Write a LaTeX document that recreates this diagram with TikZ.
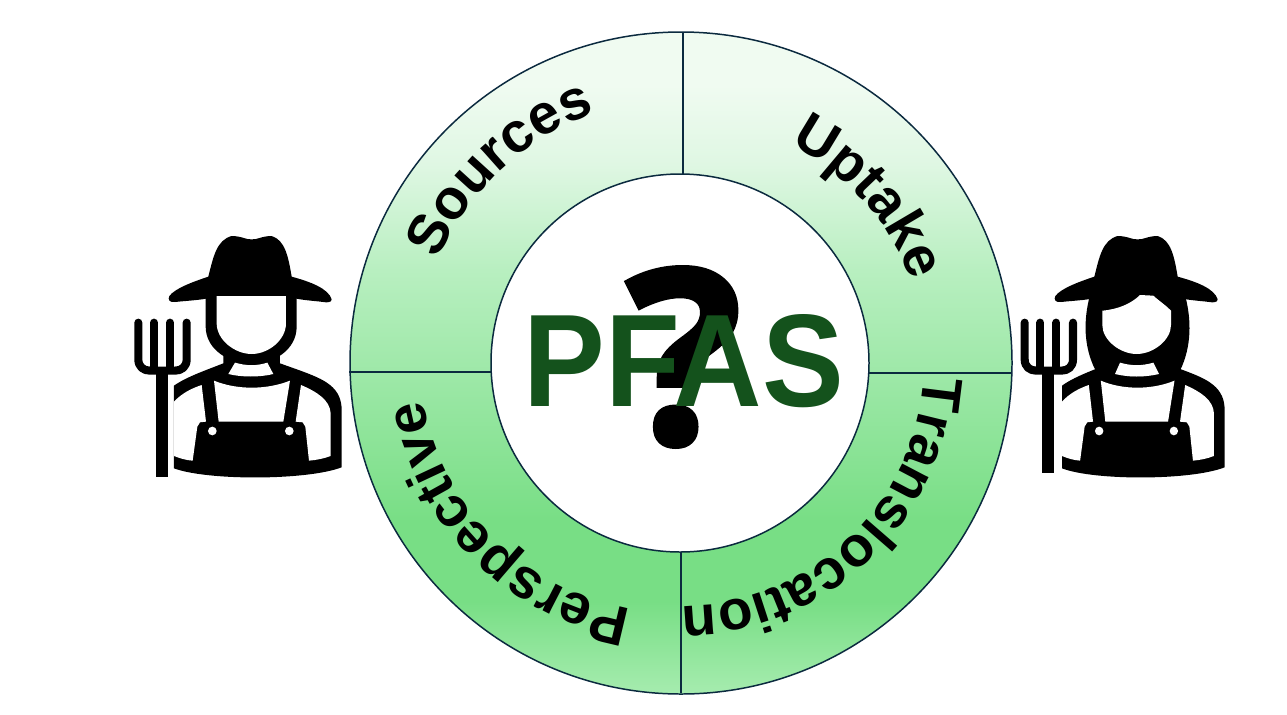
\documentclass[tikz,border=0pt]{standalone}
\usepackage{fontspec}
\setmainfont{Liberation Sans}
\newfontfamily\markfont[BoldFeatures={FakeBold=1.6}]{Open Sans}
\newfontfamily\pfasfont[FakeStretch=0.93]{Liberation Sans}
\usepackage{tikz}
\usetikzlibrary{decorations.text}
\definecolor{RingLine}{HTML}{0B2A3F}
\definecolor{LeafDark}{HTML}{14521C}
\definecolor{RingTop}{HTML}{F0FBF1}
\definecolor{RingHigh}{HTML}{DFF7E3}
\definecolor{RingLow}{HTML}{B8EFC0}
\definecolor{RingMid}{HTML}{78DE85}
\definecolor{RingEnd}{HTML}{A6ECAF}
\pgfdeclareverticalshading{ringshade}{100bp}{color(0bp)=(RingEnd); color(25bp)=(RingEnd); color(32bp)=(RingMid); color(38bp)=(RingMid); color(57bp)=(RingLow); color(65bp)=(RingHigh); color(71bp)=(RingTop); color(100bp)=(RingTop)}
\tikzset{
  % Ring styles
  ringline/.style={draw=RingLine, line width=0.85pt},
  ringlabel/.style={decorate, decoration={text along path, text align=center, text={|\fontsize{32}{32}\selectfont\bfseries|#1}}},
  % Farmer parts, in units of the third of a pixel
  farmerfork/.pic={
    \draw[line width=4.6pt, line cap=round, line join=round]
      (55,308) -- (55,418) .. controls (55,440) and (70,452) .. (90,452) -- (165,452)
      .. controls (185,452) and (200,440) .. (200,418) -- (200,308);
    \draw[line width=4.6pt, line cap=round] (102,308) -- (102,450);
    \draw[line width=4.6pt, line cap=round] (150,308) -- (150,450);
    \fill (108,450) rectangle (143,#1);
  },
  farmerhat/.pic={
    \fill (265,170) .. controls (280,110) and (290,60) .. (335,48) .. controls (365,48) and (380,60) .. (395,58)
      .. controls (410,60) and (425,48) .. (455,48) .. controls (495,60) and (505,110) .. (515,170)
      .. controls (570,185) and (625,205) .. (635,238) .. controls (635,248) and (620,248) .. (610,246)
      .. controls (580,242) and (530,240) .. (500,228) -- (290,228)
      .. controls (260,240) and (200,242) .. (165,246) .. controls (150,248) and (142,240) .. (148,228)
      .. controls (165,205) and (220,185) .. (265,170) -- cycle;
  },
  farmerbody/.pic={
    \begin{scope}[shift={(-395,0)}]
      \fill (162,497) .. controls (200,470) and (260,450) .. (310,430) -- (310,400) -- (480,400) -- (480,430)
        .. controls (540,452) and (600,470) .. (630,495) .. controls (655,515) and (665,540) .. (665,570)
        -- (665,742) .. controls (560,782) and (260,782) .. (162,745) -- cycle;
      \fill[white] (162,545) .. controls (185,520) and (215,505) .. (245,495) -- (258,605) -- (240,607)
        -- (232,620) -- (218,722) .. controls (195,720) and (180,715) .. (162,708) -- cycle;
      \fill[white] (543,495) .. controls (590,515) and (630,540) .. (632,580) -- (632,708)
        .. controls (610,716) and (590,720) .. (567,722) -- (556,620) -- (548,607) -- (527,605) -- cycle;
      \fill[white] (282,482) .. controls (350,510) and (440,510) .. (510,482) -- (490,605) -- (296,605) -- cycle;
      \fill[white] (345,428) .. controls (380,438) and (410,438) .. (442,428) -- (460,462)
        .. controls (420,472) and (365,472) .. (325,462) -- cycle;
      \fill[white] (277,633) circle (13);
      \fill[white] (508,633) circle (13);
    \end{scope}
  },
}
\begin{document}
\begin{tikzpicture}[x=0.02cm, y=-0.02cm]
  \useasboundingbox (0,0) rectangle (1287,714);

  % Ring
  \shade[shading=ringshade] (681,363) circle (331);
  \draw[ringline] (681,363) circle (331);
  \draw[ringline] (683,32) -- (683,174);
  \draw[ringline] (681,552) -- (681,693);
  \draw[ringline] (349,372) -- (491,372);
  \draw[ringline] (869,373) -- (1012,373);
  \draw[ringline, fill=white] (680,363) circle (189);

  % Ring labels
  \path[ringlabel=Sources] (681,363) ++(170:264) arc[start angle=170, end angle=284, radius=264];
  \path[ringlabel=Uptake] (681,363) ++(265:244) arc[start angle=265, end angle=372, radius=244];
  \path[ringlabel=Translocation] (681,363) ++(-21:243) arc[start angle=-21, end angle=114, radius=243];
  \path[ringlabel=Perspective] (672,360) ++(80:252) arc[start angle=80, end angle=190, radius=252];

  % Centre
  \node (mark) at (684,357) {\fontsize{139}{139}\markfont\bfseries ?};
  \node[text=LeafDark] (pfas) at (684,361) {\fontsize{75}{75}\pfasfont\bfseries PFAS};

  % Left farmer
  \begin{scope}[shift={(120,220)}, x=0.00667cm, y=-0.00667cm]
    \pic {farmerfork=770};
    \pic at (395,0) {farmerbody};
    \pic {farmerhat};
    \fill (257,225) -- (257,320) .. controls (257,390) and (330,432) .. (395,432)
      .. controls (460,432) and (530,390) .. (530,320) -- (530,225) -- cycle;
    \fill[white] (290,228) -- (290,310) .. controls (290,360) and (345,402) .. (395,402)
      .. controls (445,402) and (498,360) .. (498,310) -- (498,228) -- cycle;
  \end{scope}

  % Right farmer
  \begin{scope}[shift={(1005,220)}, x=0.00667cm, y=-0.00667cm]
    \pic at (4,0) {farmerfork=760};
    \pic[xscale=0.97] at (397,0) {farmerbody};
    \pic at (3,0) {farmerhat};
    \fill (255,225) .. controls (235,300) and (235,380) .. (272,452) -- (340,470) -- (460,470) -- (525,452)
      .. controls (560,380) and (560,300) .. (540,225) -- cycle;
    \fill[white] (292,272) .. controls (340,268) and (380,250) .. (405,225) -- (445,227)
      .. controls (465,245) and (485,258) .. (498,272) -- (498,315) .. controls (498,360) and (445,402) .. (395,402)
      .. controls (345,402) and (292,360) .. (292,315) -- cycle;
    \fill[white] (345,428) .. controls (380,438) and (410,438) .. (445,428) -- (462,462)
      .. controls (420,472) and (370,472) .. (330,462) -- cycle;
  \end{scope}
\end{tikzpicture}
\end{document}
